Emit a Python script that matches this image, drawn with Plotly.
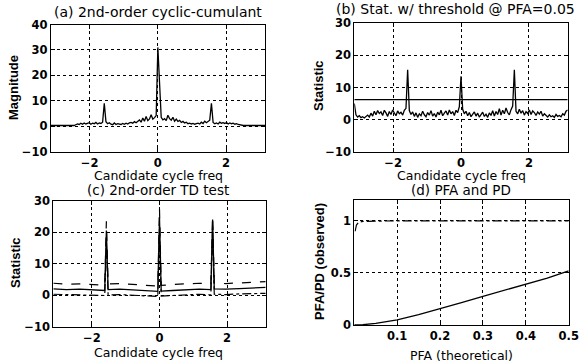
import numpy as np
import plotly.graph_objects as go

W, H = 582, 363

# ---------------- data ----------------
# candidate cycle frequency grid (k*pi/64, k=-64..64)
freq = np.linspace(-np.pi, np.pi, 129)

mag_a = ([0.3] * 15 +
         [0.6, 0.9, 0.7, 1.2, 0.8, 1.3, 0.9, 1.1, 1.4, 0.8, 1.2, 1.0, 1.5, 0.9, 1.3, 1.1, 1.6] +
         [9.0] +
         [1.8, 1.0, 1.4, 0.8, 0.6, 1.3, 0.7, 1.0, 0.9, 0.7, 1.1, 0.8, 1.2, 0.9, 1.3, 1.5, 1.2, 1.8, 1.4, 2.0] +
         [2.5, 1.6, 3.2, 2.0, 3.8, 2.2, 2.9, 4.5, 2.8, 3.4, 4.2] +
         [31.0] +
         [14.0, 3.5] +
         [2.5, 3.0, 2.2, 4.3, 3.0, 2.4, 3.5, 2.0, 2.8, 1.9] +
         [2.3, 1.5, 1.9, 1.3, 1.6, 1.0, 1.2, 0.9, 1.1, 0.8, 1.0, 1.2, 0.9, 1.6, 1.1, 2.0, 1.4, 1.8, 2.4] +
         [9.0] +
         [1.5, 1.0, 1.3, 0.9, 1.6, 1.2, 1.4, 1.1, 1.5, 0.9, 1.3, 1.0, 1.2, 0.8, 1.0, 0.7, 0.5] +
         [0.3] * 15)

stat_b = ([5.0] +
          [1.5, 0.8, 1.2, 0.6, 0.9, 0.5, 1.0, 1.4, 0.8, 2.0, 1.1, 2.6, 1.5, 2.8, 1.9, 2.4, 1.3, 2.9, 2.1, 1.0,
           2.5, 1.6, 3.0, 2.2, 1.2, 2.7, 1.8, 2.3, 1.4, 2.9, 3.5] +
          [15.5] +
          [2.8, 1.6, 2.4, 1.0, 2.1, 0.7, 1.8, 1.2, 2.6, 1.5, 0.9, 2.2, 1.4, 2.8, 1.1, 1.9, 0.8, 2.3, 1.5, 2.9,
           1.2, 2.0, 2.7, 1.4, 3.0, 1.8, 2.5, 1.3, 2.9, 2.2, 4.0] +
          [13.5] +
          [3.2, 1.8, 2.6, 1.2, 2.2, 0.9, 1.6, 2.4, 1.1, 2.0, 0.8, 1.5, 2.3, 1.0, 1.7, 0.7, 2.1, 1.3, 2.8, 1.1,
           2.5, 1.6, 3.4, 1.4, 2.9, 1.8, 3.6, 2.2, 1.5, 3.1, 4.2] +
          [15.5] +
          [2.6, 1.8, 3.2, 2.0, 2.8, 1.4, 2.5, 1.9, 3.0, 1.6, 2.7, 2.2, 1.3, 2.4, 1.7, 2.6, 1.1, 1.8, 1.3, 0.8,
           1.5, 0.9, 1.2, 0.7, 1.6, 1.0, 1.3, 0.9, 1.8, 1.4, 2.6] +
          [3.0])

thresh_x = [-np.pi, np.pi]
thresh_b = [6.2, 6.2]

freq_c = [-3.14, -2.75, -2.36, -1.96, -1.62, -1.571, -1.52, -1.18, -0.79, -0.39, -0.05, 0.0, 0.05,
          0.39, 0.79, 1.18, 1.52, 1.571, 1.62, 1.96, 2.36, 2.75, 3.14]
stat_c = [2.0, 1.8, 1.9, 1.6, 1.5, 20.5, 1.8, 1.9, 1.6, 1.4, 1.2, 24.5, 1.3,
          1.5, 1.8, 1.9, 1.8, 24.0, 2.0, 1.9, 2.1, 2.3, 2.5]
upper_c = [3.8, 3.5, 3.6, 3.3, 3.2, 23.5, 3.6, 3.7, 3.4, 3.2, 2.9, 27.5, 3.1,
           3.4, 3.7, 3.8, 3.6, 25.0, 3.8, 3.7, 3.9, 4.1, 4.3]
lower_c = [0.3, 0.2, 0.3, 0.0, -0.1, 17.0, 0.1, 0.2, 0.0, -0.2, -0.4, 21.0, -0.3,
           -0.1, 0.2, 0.3, 0.1, 22.0, 0.3, 0.2, 0.4, 0.5, 0.6]

pfa_theory = [0.0, 0.02, 0.05, 0.1, 0.15, 0.2, 0.25, 0.3, 0.35, 0.4, 0.45, 0.5]
pfa_obs = [0.0, 0.003, 0.015, 0.05, 0.1, 0.155, 0.215, 0.275, 0.335, 0.39, 0.45, 0.52]
pd_x = [0.002, 0.005, 0.01, 0.02, 0.1, 0.2, 0.3, 0.4, 0.5]
pd_obs = [0.9, 0.96, 0.985, 0.995, 1.0, 1.0, 1.0, 1.0, 1.0]

# ---------------- layout helpers ----------------
def fx(p):
    return p / W

def fy(p):
    return 1 - p / H

TICKFONT = dict(family="DejaVu Sans, sans-serif", size=11.5, color="black", weight="bold")
TXT = "DejaVu Sans, sans-serif"
YT = "Liberation Sans Narrow, Arial Narrow, Liberation Sans, sans-serif"

def axis(domain, rng, tickvals, ticktext=None):
    d = dict(domain=domain, range=rng, tickvals=tickvals, showgrid=True, gridcolor="black",
             griddash="dot", gridwidth=1, zeroline=False, showline=True, linecolor="black",
             linewidth=1, mirror="ticks", ticks="inside", ticklen=4, tickcolor="black",
             tickfont=TICKFONT, fixedrange=True, automargin=False)
    if ticktext is not None:
        d["ticktext"] = ticktext
    return d

fig = go.Figure()
line = dict(color="black", width=1.3)

fig.add_trace(go.Scatter(x=freq, y=mag_a, mode="lines", line=line, xaxis="x", yaxis="y"))
fig.add_trace(go.Scatter(x=freq, y=stat_b, mode="lines", line=line, xaxis="x2", yaxis="y2"))
fig.add_trace(go.Scatter(x=thresh_x, y=thresh_b, mode="lines", line=line, xaxis="x2", yaxis="y2"))
fig.add_trace(go.Scatter(x=freq_c, y=upper_c, mode="lines", line=dict(color="black", width=1.2, dash="dash"), xaxis="x3", yaxis="y3"))
fig.add_trace(go.Scatter(x=freq_c, y=lower_c, mode="lines", line=dict(color="black", width=1.2, dash="dashdot"), xaxis="x3", yaxis="y3"))
fig.add_trace(go.Scatter(x=freq_c, y=stat_c, mode="lines", line=line, xaxis="x3", yaxis="y3"))
fig.add_trace(go.Scatter(x=pfa_theory, y=pfa_obs, mode="lines", line=line, xaxis="x4", yaxis="y4"))
fig.add_trace(go.Scatter(x=pd_x, y=pd_obs, mode="lines", line=dict(color="black", width=1.2, dash="dashdot"), xaxis="x4", yaxis="y4"))

fig.update_layout(
    width=W, height=H, margin=dict(l=0, r=0, t=0, b=0, pad=0, autoexpand=False),
    paper_bgcolor="white", plot_bgcolor="white", showlegend=False,
    xaxis=axis([fx(50.7), fx(265)], [-np.pi, np.pi], [-2, 0, 2]),
    yaxis=axis([fy(151.7), fy(24.5)], [-10, 40], [-10, 0, 10, 20, 30, 40]),
    xaxis2=axis([fx(354.3), fx(567.7)], [-np.pi, np.pi], [-2, 0, 2]),
    yaxis2=axis([fy(151.7), fy(23.3)], [-10, 30], [-10, 0, 10, 20, 30]),
    xaxis3=axis([fx(53.3), fx(265.7)], [-np.pi, np.pi], [-2, 0, 2]),
    yaxis3=axis([fy(326.7), fy(200.7)], [-10, 30], [-10, 0, 10, 20, 30]),
    xaxis4=axis([fx(354.3), fx(568.7)], [0, 0.5], [0.1, 0.2, 0.3, 0.4, 0.5]),
    yaxis4=axis([fy(325), fy(200)], [0, 1.2], [0, 0.5, 1], ["0", "0.5", "1"]),
)
for k in ["xaxis2", "xaxis3", "xaxis4"]:
    fig.layout[k].anchor = "y" + k[-1]
for k in ["yaxis2", "yaxis3", "yaxis4"]:
    fig.layout[k].anchor = "x" + k[-1]

anns = [
    # titles
    ("(a) 2nd-order cyclic-cumulant", 158, 12, "center", 0, TXT, 14, "normal"),
    ("(b) Stat. w/ threshold @ PFA=0.05", 334, 9, "left", 0, TXT, 14, "normal"),
    ("(c) 2nd-order TD test", 158, 190, "center", 0, TXT, 13.5, "normal"),
    ("(d) PFA and PD", 461, 190, "center", 0, TXT, 13.5, "normal"),
    # x titles
    ("Candidate cycle freq", 158, 175.5, "center", 0, TXT, 12.5, "normal"),
    ("Candidate cycle freq", 461, 175.5, "center", 0, TXT, 12.5, "normal"),
    ("Candidate cycle freq", 158, 352.5, "center", 0, TXT, 12.5, "normal"),
    ("PFA (theoretical)", 461, 355, "center", 0, TXT, 12.5, "normal"),
    # y titles
    ("Magnitude", 13, 88, "center", -90, YT, 13, "bold"),
    ("Statistic", 318, 85, "center", -90, YT, 13, "bold"),
    ("Statistic", 15, 263, "center", -90, YT, 13, "bold"),
    ("PFA/PD (observed)", 319, 262, "center", -90, YT, 13, "bold"),
]
for text, x, y, xa, ang, fam, size, wt in anns:
    fig.add_annotation(text=text, x=fx(x), y=fy(y), xref="paper", yref="paper",
                       xanchor=xa, yanchor="middle", textangle=ang, showarrow=False,
                       font=dict(family=fam, size=size, color="black", weight=wt))

fig.write_html("out.html", config={"displayModeBar": False, "staticPlot": True},
               post_script="document.body.style.margin='0px';document.body.style.overflow='hidden';")
